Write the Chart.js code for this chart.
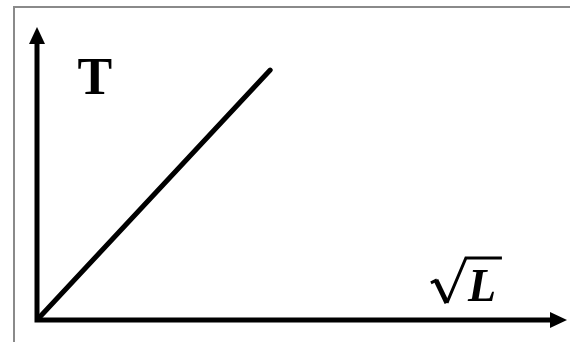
<!DOCTYPE html>
<html>
<head>
<meta charset="utf-8">
<script src="https://cdn.jsdelivr.net/npm/chart.js@4/dist/chart.umd.min.js"></script>
<style>
  html, body { margin: 0; padding: 0; background: #fff; }
  #wrap { position: relative; width: 570px; height: 342px; }
  #frame { position: absolute; left: 13px; top: 6px; right: 0; bottom: 0;
           border-left: 2px solid #8a8a8a; border-top: 2px solid #8a8a8a; }
  canvas { position: absolute; left: 0; top: 0; }
</style>
</head>
<body>
<div id="wrap">
  <div id="frame"></div>
  <canvas id="graph" width="570" height="342"></canvas>
</div>
<script>
// T against sqrt(L): straight line through the origin
const sqrtL = [0, 4.4];
const period = [0, 8.53];
const yLabel = 'T';
const xLabel = 'L';

const axesPlugin = {
    id: 'axes',
    afterDatasetsDraw(chart) {
        const ctx = chart.ctx;
        const a = chart.chartArea;
        const xs = chart.scales.x, ys = chart.scales.y;
        ctx.save();
        ctx.strokeStyle = '#000';
        ctx.fillStyle = '#000';
        ctx.lineWidth = 5;
        // axes
        ctx.beginPath();
        ctx.moveTo(a.left, a.top + 10);
        ctx.lineTo(a.left, a.bottom);
        ctx.lineTo(a.right - 10, a.bottom);
        ctx.stroke();
        // arrow heads
        ctx.beginPath();
        ctx.moveTo(a.left, a.top);
        ctx.lineTo(a.left - 8, a.top + 17);
        ctx.lineTo(a.left + 8, a.top + 17);
        ctx.closePath();
        ctx.fill();
        ctx.beginPath();
        ctx.moveTo(a.right, a.bottom);
        ctx.lineTo(a.right - 17, a.bottom - 8);
        ctx.lineTo(a.right - 17, a.bottom + 8);
        ctx.closePath();
        ctx.fill();

        // T label
        ctx.font = 'bold 52px "Liberation Serif"';
        ctx.textAlign = 'center';
        ctx.textBaseline = 'alphabetic';
        ctx.fillText(yLabel, xs.getPixelForValue(1.09), ys.getPixelForValue(7.7));

        // sqrt(L) label: radical sign, overbar, then L
        const bx = xs.getPixelForValue(7.47), by = ys.getPixelForValue(0.65);
        ctx.lineJoin = 'miter';
        ctx.lineWidth = 3;
        ctx.beginPath();
        ctx.moveTo(bx - 2, by - 18);
        ctx.lineTo(bx + 4, by - 21);
        ctx.stroke();
        ctx.lineWidth = 5;
        ctx.beginPath();
        ctx.moveTo(bx + 3, by - 21);
        ctx.lineTo(bx + 14, by + 2);
        ctx.stroke();
        ctx.lineWidth = 3;
        ctx.beginPath();
        ctx.moveTo(bx + 14, by + 2);
        ctx.lineTo(bx + 33, by - 43);
        ctx.lineTo(bx + 69, by - 43);
        ctx.stroke();
        ctx.textAlign = 'left';
        ctx.font = 'bold italic 46px "Liberation Serif"';
        ctx.fillText(xLabel, bx + 35, by);
        ctx.restore();
    }
};

new Chart(document.getElementById('graph'), {
    type: 'scatter',
    data: {
        datasets: [{
            data: sqrtL.map((v, i) => ({ x: v, y: period[i] })),
            showLine: true,
            borderColor: '#000',
            borderWidth: 5,
            borderCapStyle: 'round',
            pointRadius: 0
        }]
    },
    options: {
        responsive: false,
        animation: false,
        layout: { padding: { left: 37, right: 3, top: 27, bottom: 22 } },
        plugins: { legend: { display: false }, tooltip: { enabled: false } },
        scales: {
            x: { type: 'linear', min: 0, max: 10, display: false },
            y: { type: 'linear', min: 0, max: 10, display: false }
        }
    },
    plugins: [axesPlugin]
});
</script>
</body>
</html>
